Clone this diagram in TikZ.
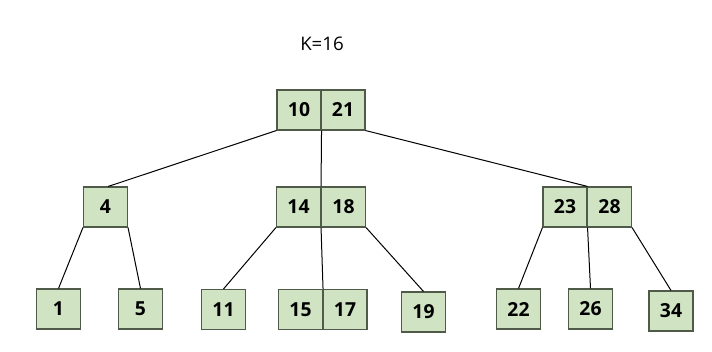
\documentclass[tikz,border=0pt]{standalone}
\usepackage{fontspec}
\setmainfont{Open Sans}
\definecolor{cellfill}{HTML}{D0E4C4}
\definecolor{celldraw}{HTML}{4F5B48}
\begin{document}
\begin{tikzpicture}[x=0.75pt,y=-0.75pt,
  cell/.style={draw=celldraw,fill=cellfill,line width=0.8pt,minimum width=33pt,minimum height=30pt,inner sep=0pt,font=\fontsize{14.5}{16}\selectfont\bfseries},
  link/.style={draw=black,line width=0.75pt}]
\useasboundingbox (0,0) rectangle (712,352);
\node[font=\fontsize{14}{16}\selectfont] (k) at (322,44) {K=16};
% root
\node[cell] (r1) at (299,110) {10};
\node[cell] (r2) at (343,110) {21};
% level 1
\node[cell] (n4) at (105.5,207) {4};
\node[cell] (b14) at (298.5,207) {14};
\node[cell] (b18) at (343.5,207) {18};
\node[cell] (d23) at (565,207) {23};
\node[cell] (d28) at (609.5,207) {28};
% leaves
\node[cell] (a1) at (58.5,309) {1};
\node[cell] (a5) at (140.5,309) {5};
\node[cell] (c11) at (223.5,309.5) {11};
\node[cell] (c15) at (300.5,309.5) {15};
\node[cell] (c17) at (345,309.5) {17};
\node[cell] (c19) at (423.5,312) {19};
\node[cell] (e22) at (518.5,309) {22};
\node[cell] (e26) at (590.5,309) {26};
\node[cell] (e34) at (671,311) {34};
% connectors
\draw[link] (r1.south west) -- ([xshift=2]n4.north);
\draw[link] (r1.south east) -- (b14.north east);
\draw[link] (r2.south east) -- (d23.north east);
\draw[link] (n4.south west) -- (a1.north);
\draw[link] (n4.south east) -- (a5.north);
\draw[link] (b14.south west) -- (c11.north);
\draw[link] (b14.south east) -- (c15.north east);
\draw[link] (b18.south east) -- (c19.north);
\draw[link] (d23.south west) -- (e22.north);
\draw[link] (d23.south east) -- (e26.north);
\draw[link] (d28.south east) -- (e34.north);
\end{tikzpicture}
\end{document}
